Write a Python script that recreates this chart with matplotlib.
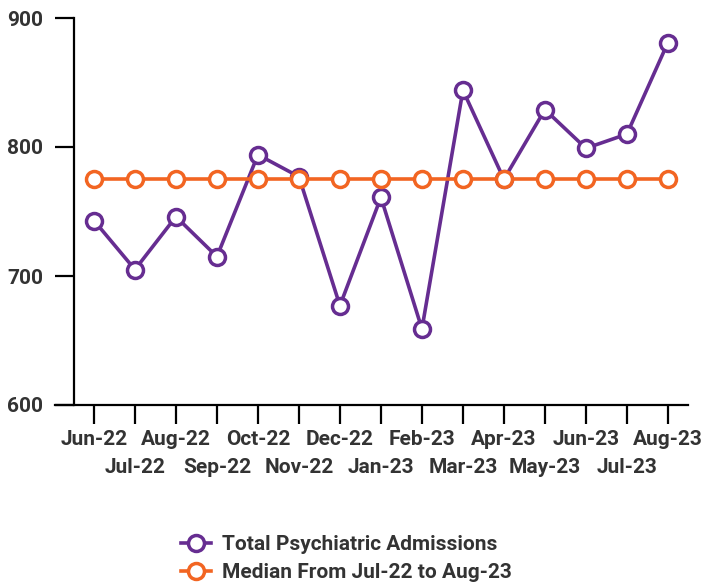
import matplotlib
matplotlib.use("Agg")
import matplotlib.pyplot as plt

months = ["Jun-22", "Jul-22", "Aug-22", "Sep-22", "Oct-22", "Nov-22", "Dec-22",
          "Jan-23", "Feb-23", "Mar-23", "Apr-23", "May-23", "Jun-23", "Jul-23", "Aug-23"]
admissions = [743, 705, 746, 715, 794, 777, 677, 761, 659, 844, 775, 829, 799, 810, 881]
median_val = [775] * len(months)
y_ticks = [600, 700, 800, 900]

purple = "#662d91"
orange = "#f26522"
text_col = "#333333"

plt.rcParams['font.family'] = ['Roboto', 'DejaVu Sans']
plt.rcParams['font.weight'] = 'bold'

W, H = 704, 583
fig = plt.figure(figsize=(W / 100, H / 100), dpi=100)
ax = fig.add_axes([55 / W, (H - 405) / H, (688 - 55) / W, (405 - 18) / H])

x = list(range(len(months)))
l1, = ax.plot(x, admissions, color=purple, lw=2.6, marker='o', ms=11.5,
              mfc='white', mec=purple, mew=2.5, zorder=3,
              label="Total Psychiatric Admissions")
l2, = ax.plot(x, median_val, color=orange, lw=2.6, marker='o', ms=11.5,
              mfc='white', mec=orange, mew=2.5, zorder=4,
              label="Median From Jul-22 to Aug-23")

ax.set_xlim(-0.95, 14.49)
ax.set_ylim(600, 900)
ax.spines['top'].set_visible(False)
ax.spines['right'].set_visible(False)
ax.spines['left'].set_position(('data', -0.49))
for s in ('left', 'bottom'):
    ax.spines[s].set_linewidth(1.6)
    ax.spines[s].set_color('black')

FS = 15
ax.set_yticks(y_ticks)
ax.set_yticklabels([str(v) for v in y_ticks])
ax.set_xticks(x)
ax.set_xticklabels(months)
ax.tick_params(axis='both', length=14, width=1.6, color='black',
               labelsize=FS, labelcolor=text_col)
ax.tick_params(axis='y', pad=8)
for i, tick in enumerate(ax.xaxis.get_major_ticks()):
    tick.set_pad(4 if i % 2 == 0 else 24)
for lab in ax.get_xticklabels() + ax.get_yticklabels():
    lab.set_fontweight('bold')

leg = fig.legend(handles=[l1, l2], loc='upper left',
                 bbox_to_anchor=(181 / W, 1 - 535 / H), frameon=False,
                 fontsize=FS, handlelength=1.45, handletextpad=0.5,
                 labelspacing=0.45, borderaxespad=0, borderpad=0)
for t in leg.get_texts():
    t.set_color(text_col)
    t.set_fontweight('bold')

fig.savefig("out.png", dpi=100)
